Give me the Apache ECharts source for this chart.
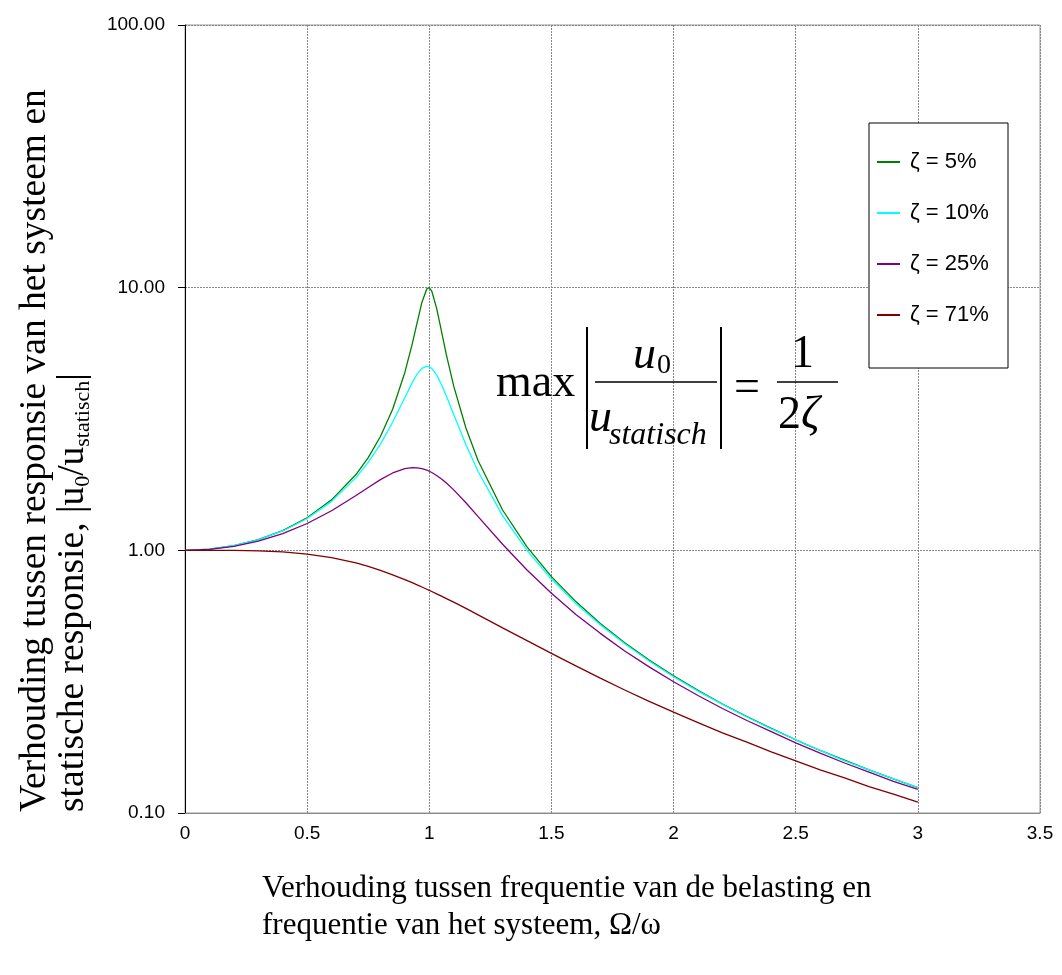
<!DOCTYPE html>
<html>
<head>
<meta charset="utf-8">
<script src="https://cdn.jsdelivr.net/npm/echarts@6/dist/echarts.min.js"></script>
<style>html,body{margin:0;padding:0;background:#fff}#c{width:1062px;height:975px}</style>
</head>
<body>
<div id="c"></div>
<script>
// Frequency ratio Ω/ω (x values)
var omega = [0,0.1,0.2,0.3,0.4,0.5,0.6,0.7,
  0.75,0.8,0.85,0.9,0.93,0.95,0.97,0.99,1.0,1.01,1.03,1.05,1.07,1.1,1.15,1.2,
  1.3,1.4,1.5,1.6,1.7,1.8,1.9,2.0,2.1,2.2,2.3,2.4,2.5,2.6,2.7,2.8,2.9,3.0];
// |u0/ustatisch|, one array per damping ratio
var zeta5 = [1,1.010,1.041,1.098,1.189,1.330,1.556,1.943,
  2.253,2.712,3.446,4.757,6.097,7.346,8.804,9.903,10.0,9.711,8.357,6.815,5.552,4.218,2.921,2.193,
  1.424,1.031,0.794,0.638,0.527,0.445,0.382,0.333,0.293,0.260,0.233,0.210,0.190,0.173,0.159,0.146,0.135,0.125];
var zeta10 = [1,1.010,1.041,1.097,1.185,1.322,1.536,1.891,
  2.162,2.538,3.073,3.821,4.350,4.683,4.931,5.025,5.0,4.926,4.655,4.279,3.869,3.288,2.525,1.995,
  1.356,1.000,0.778,0.628,0.521,0.441,0.379,0.330,0.291,0.259,0.232,0.209,0.190,0.173,0.158,0.146,0.135,0.125];
var zeta25 = [1,1.009,1.036,1.084,1.158,1.265,1.415,1.617,
  1.735,1.858,1.970,2.047,2.065,2.062,2.047,2.019,2.0,1.979,1.928,1.870,1.804,1.699,1.517,1.344,
  1.055,0.842,0.686,0.570,0.483,0.414,0.360,0.316,0.280,0.250,0.225,0.204,0.185,0.169,0.155,0.143,0.132,0.123];
var zeta71 = [1,1.000,0.999,0.995,0.986,0.968,0.938,0.895,
  0.869,0.839,0.807,0.774,0.753,0.739,0.725,0.711,0.704,0.697,0.683,0.669,0.655,0.635,0.601,0.568,
  0.507,0.453,0.405,0.363,0.326,0.294,0.266,0.242,0.221,0.202,0.186,0.171,0.158,0.146,0.136,0.126,0.118,0.110];
var seriesNames = ['ζ = 5%','ζ = 10%','ζ = 25%','ζ = 71%'];
var seriesColors = ['#008000','#00FFFF','#800080','#800000'];
var xTicks = {min:0, max:3.5, interval:0.5};
var yTicks = {min:0.1, max:100};

function pairs(ys){ return omega.map(function(x,i){ return [x, ys[i]]; }); }
var allData = [zeta5, zeta10, zeta25, zeta71];

var serif = "'Liberation Serif','Times New Roman','DejaVu Serif',serif";
var sans = "'Liberation Sans',Arial,Helvetica,sans-serif";

var chart = echarts.init(document.getElementById('c'), null, {renderer:'canvas'});
chart.setOption({
  animation:false,
  backgroundColor:'#fff',
  grid:{left:185, right:22, top:25, bottom:162, show:true, borderColor:'#999', borderWidth:1, backgroundColor:'transparent'},
  xAxis:{type:'value', min:xTicks.min, max:xTicks.max, interval:xTicks.interval,
    axisLine:{lineStyle:{color:'#888', width:1}}, axisTick:{show:false},
    axisLabel:{color:'#000', fontSize:19, fontFamily:sans, margin:11},
    splitLine:{show:true, lineStyle:{color:'#888', type:[2,1], width:1}}},
  yAxis:{type:'log', logBase:10, min:yTicks.min, max:yTicks.max,
    axisLine:{show:true, lineStyle:{color:'#000', width:1}},
    axisTick:{show:true, length:7, lineStyle:{color:'#000'}},
    minorTick:{show:false},
    axisLabel:{color:'#000', fontSize:19, fontFamily:sans, margin:20, formatter:function(v){return Number(v).toFixed(2);}},
    splitLine:{show:true, lineStyle:{color:'#888', type:[2,1], width:1}}},
  legend:{orient:'vertical', left:877, top:151, itemWidth:23, itemHeight:2, itemGap:29, icon:'rect',
    padding:0, z:6,
    textStyle:{fontSize:22, fontFamily:sans, color:'#000', lineHeight:22, padding:[0,0,0,5]},
    data:seriesNames},
  series: allData.map(function(d,i){
    return {name:seriesNames[i], type:'line', data:pairs(d), showSymbol:false, symbol:'none',
      smooth:false, lineStyle:{color:seriesColors[i], width:1.3}, itemStyle:{color:seriesColors[i]}, z:2};
  }),
  graphic:[
    {type:'rect', shape:{x:869, y:123, width:139, height:245}, style:{fill:'#fff', stroke:'#000', lineWidth:1}, z:5},
    // y axis title
    {type:'text', x:35, y:812, rotation:Math.PI/2, z:10,
      style:{text:'Verhouding tussen responsie van het systeem en', font:'37.5px '+serif, fill:'#000', textAlign:'left', textVerticalAlign:'middle'}},
    {type:'text', x:73, y:812, rotation:Math.PI/2, z:10,
      style:{text:'{m|statische responsie, |u}{s|0}{m|/u}{s|statisch}{m||}', fill:'#000', textAlign:'left', textVerticalAlign:'middle',
        rich:{m:{fontSize:37.5, fontFamily:serif, lineHeight:42, verticalAlign:'middle'},
              s:{fontSize:22, fontFamily:serif, lineHeight:23, verticalAlign:'bottom'}}}},
    // x axis title
    {type:'text', x:262, y:889, z:10,
      style:{text:'Verhouding tussen frequentie van de belasting en', font:'31px '+serif, fill:'#000', textAlign:'left', textVerticalAlign:'middle'}},
    {type:'text', x:262, y:926, z:10,
      style:{text:'frequentie van het systeem, Ω/ω', font:'31px '+serif, fill:'#000', textAlign:'left', textVerticalAlign:'middle'}},
    // formula
    {type:'text', x:496, y:384, z:10, style:{text:'max', font:'46px '+serif, fill:'#000', textAlign:'left', textVerticalAlign:'middle'}},
    {type:'line', shape:{x1:587, y1:327, x2:587, y2:449}, style:{stroke:'#000', lineWidth:2}, z:10},
    {type:'line', shape:{x1:721, y1:327, x2:721, y2:449}, style:{stroke:'#000', lineWidth:2}, z:10},
    {type:'line', shape:{x1:595, y1:382, x2:717, y2:382}, style:{stroke:'#000', lineWidth:1.5}, z:10},
    {type:'text', x:633, y:356, z:10, style:{text:'u', font:'italic 46px '+serif, fill:'#000', textAlign:'left', textVerticalAlign:'middle'}},
    {type:'text', x:657, y:366, z:10, style:{text:'0', font:'28px '+serif, fill:'#000', textAlign:'left', textVerticalAlign:'middle'}},
    {type:'text', x:589, y:419, z:10, style:{text:'u', font:'italic 46px '+serif, fill:'#000', textAlign:'left', textVerticalAlign:'middle'}},
    {type:'text', x:609, y:436, z:10, style:{text:'statisch', font:'italic 32px '+serif, fill:'#000', textAlign:'left', textVerticalAlign:'middle'}},
    {type:'text', x:734, y:389, z:10, style:{text:'=', font:'46px '+serif, fill:'#000', textAlign:'left', textVerticalAlign:'middle'}},
    {type:'text', x:791, y:355, z:10, style:{text:'1', font:'46px '+serif, fill:'#000', textAlign:'left', textVerticalAlign:'middle'}},
    {type:'line', shape:{x1:777, y1:382, x2:838, y2:382}, style:{stroke:'#000', lineWidth:1.5}, z:10},
    {type:'text', x:778, y:416, z:10, style:{text:'{a|2}{b|ζ}', fill:'#000', textAlign:'left', textVerticalAlign:'middle',
      rich:{a:{fontSize:46, fontFamily:serif}, b:{fontSize:46, fontFamily:serif, fontStyle:'italic'}}}}
  ]
});
</script>
</body>
</html>
